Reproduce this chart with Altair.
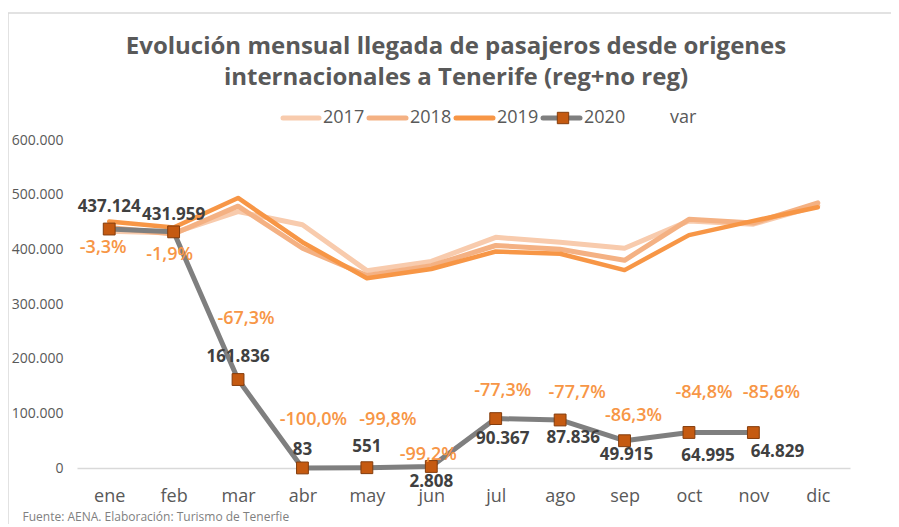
import altair as alt
import pandas as pd

months = ["ene", "feb", "mar", "abr", "may", "jun", "jul", "ago", "sep", "oct", "nov", "dic"]
v2017 = [433000, 430000, 469000, 445000, 361000, 378000, 422000, 413000, 402000, 452000, 446000, 480000]
v2018 = [440000, 428000, 479000, 402000, 352000, 370000, 407000, 400000, 380000, 455000, 448000, 485000]
v2019 = [451000, 440000, 494000, 413000, 347000, 364000, 396000, 392000, 362000, 426000, 452000, 477000]
v2020 = [437124, 431959, 161836, 83, 551, 2808, 90367, 87836, 49915, 64995, 64829]
var_labels = ["-3,3%", "-1,9%", "-67,3%", "-100,0%", "-99,8%", "-99,2%", "-77,3%", "-77,7%", "-86,3%", "-84,8%", "-85,6%"]

# label offsets in pixels (styling)
val_dx = [0, 0, 0, 0, 0, 0, 7, 13, 2, 19, 24]
val_dy = [-22, -17, -23, -18, -21, 16, 20, 18, 14, 24, 19]
var_dx = [-6, -4, 8, 11, 21, -3, 7, 17, 9, 15, 18]
var_dy = [19, 23, -61, -48, -48, -11, -28, -27, -25, -39, -40]

years = ["2017", "2018", "2019", "2020"]
colors = {"2017": "#F8CBAD", "2018": "#F4B183", "2019": "#F79646", "2020": "#7F7F7F"}
widths = {"2017": 5, "2018": 5, "2019": 4.5, "2020": 5}

rows = []
for y, vals in zip(years, [v2017, v2018, v2019, v2020]):
    for m, v in zip(months, vals):
        rows.append({"mes": m, "year": y, "value": v})
df = pd.DataFrame(rows)

df20 = pd.DataFrame({
    "mes": months[:len(v2020)],
    "value": v2020,
    "label": [f"{v:,}".replace(",", ".") for v in v2020],
    "var": var_labels,
})

FONT = "Open Sans"
GRAY = "#595959"

xenc = alt.X("mes:N", sort=months, scale=alt.Scale(domain=months, type="point", padding=0.5),
             axis=alt.Axis(title="Fuente: AENA. Elaboración: Turismo de Tenerfie", titleAnchor="start",
                           titleAlign="left", titleBaseline="middle", titleX=-55, titleY=48,
                           titleFontSize=12, titleFontWeight="normal", titleColor="#7F7F7F", titleFont=FONT,
                           labelAngle=0, labelFontSize=18, labelColor=GRAY, labelFont=FONT, labelPadding=19,
                           ticks=False, domainColor="#D9D9D9", domainWidth=1.5, grid=False))
yenc = alt.Y("value:Q", scale=alt.Scale(domain=[0, 600000], nice=False),
             axis=alt.Axis(title=None, values=[0, 100000, 200000, 300000, 400000, 500000, 600000],
                           labelExpr="replace(format(datum.value, ',.0f'), ',', '.')",
                           labelFontSize=14, labelColor=GRAY, labelFont=FONT, labelPadding=14,
                           domain=False, ticks=False, grid=False))

base = alt.Chart(df)
layers = []
for y in years:
    layers.append(base.transform_filter(alt.datum.year == y).mark_line(
        color=colors[y], strokeWidth=widths[y], strokeJoin="round", strokeCap="round").encode(x=xenc, y=yenc))

b20 = alt.Chart(df20)
layers.append(b20.mark_square(size=140, fill="#C55A11", stroke="#843C0C", strokeWidth=1, opacity=1).encode(
    x=xenc, y=yenc))
for i, m in enumerate(months[:len(v2020)]):
    sub = b20.transform_filter(alt.datum.mes == m)
    layers.append(sub.mark_text(font=FONT, fontSize=17, fontWeight="bold", color="#404040",
                                dx=val_dx[i], dy=val_dy[i]).encode(x=xenc, y=yenc, text="label:N"))
    layers.append(sub.mark_text(font=FONT, fontSize=18, fontWeight=600, color="#F79646",
                                dx=var_dx[i], dy=var_dy[i]).encode(x=xenc, y=yenc, text="var:N"))

one = pd.DataFrame({"k": [0]})
dec = alt.Chart(one)
# frame
layers.append(dec.mark_rule(color="#D9D9D9", strokeWidth=1.5).encode(
    x=alt.value(-69), y=alt.value(-127), y2=alt.value(400)))
layers.append(dec.mark_rule(color="#D9D9D9", strokeWidth=1.5).encode(
    x=alt.value(-69), x2=alt.value(830), y=alt.value(-127)))
# title
layers.append(dec.mark_text(font=FONT, fontSize=24, fontWeight="bold", color=GRAY).encode(
    x=alt.value(379), y=alt.value(-93), text=alt.value("Evolución mensual llegada de pasajeros desde origenes")))
layers.append(dec.mark_text(font=FONT, fontSize=24, fontWeight="bold", color=GRAY).encode(
    x=alt.value(379), y=alt.value(-62), text=alt.value("internacionales a Tenerife (reg+no reg)")))
# legend
leg = [("2017", 206, 242, 246), ("2018", 292, 329, 333), ("2019", 379, 416, 420), ("2020", 466, 503, 507)]
for name, x0, x1, tx in leg:
    layers.append(dec.mark_rule(color=colors[name], strokeWidth=5, strokeCap="round").encode(
        x=alt.value(x0), x2=alt.value(x1), y=alt.value(-22)))
    if name == "2020":
        layers.append(dec.mark_square(size=130, fill="#C55A11", stroke="#843C0C", strokeWidth=1, opacity=1).encode(
            x=alt.value(486), y=alt.value(-22)))
    layers.append(dec.mark_text(font=FONT, fontSize=18, color=GRAY, align="left", baseline="middle").encode(
        x=alt.value(tx), y=alt.value(-22), text=alt.value(name)))
layers.append(dec.mark_text(font=FONT, fontSize=18, color=GRAY, align="left", baseline="middle").encode(
    x=alt.value(593), y=alt.value(-22), text=alt.value("var")))

chart = alt.layer(*layers).properties(
    width=773, height=328,
    autosize=alt.AutoSizeParams(type="none"),
    padding={"left": 69, "top": 132, "right": 41, "bottom": 56},
    background="white",
).configure_view(stroke=None)

chart.save("out.html", embed_options={"renderer": "svg", "actions": False})
